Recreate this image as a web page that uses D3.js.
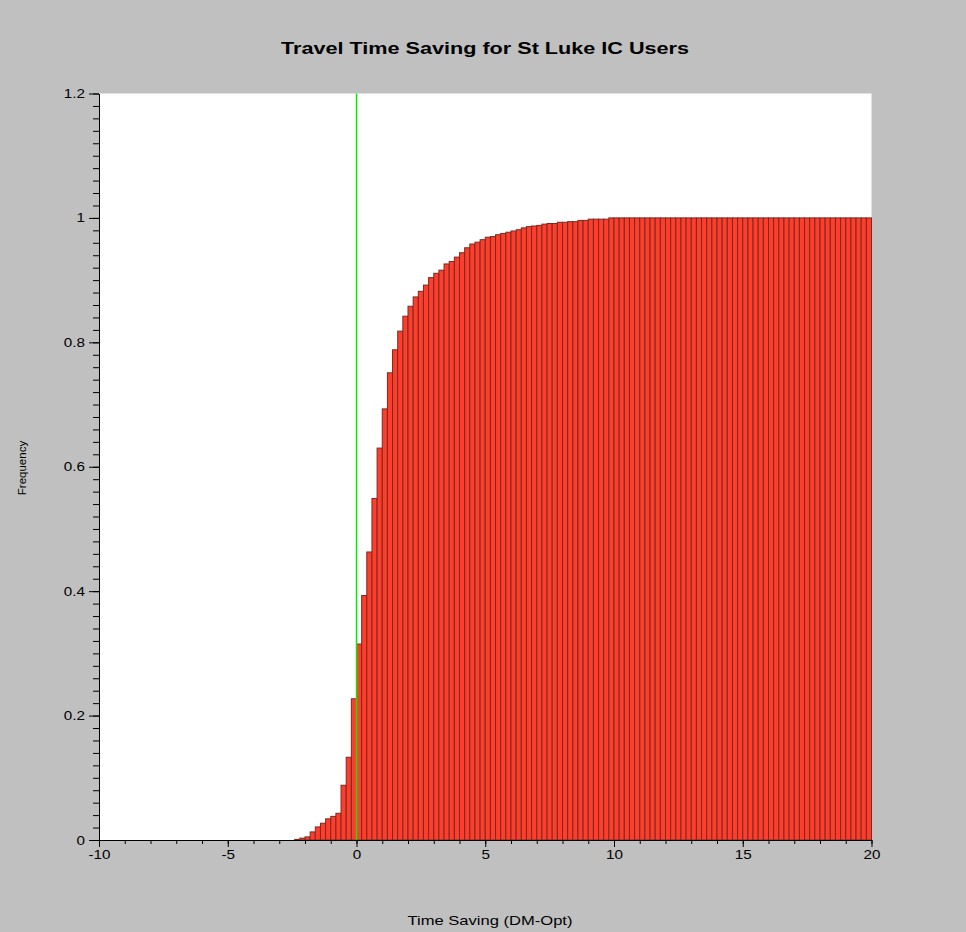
<!DOCTYPE html>
<html>
<head>
<meta charset="utf-8">
<script src="https://cdn.jsdelivr.net/npm/d3@7"></script>
<style>
  body { margin: 0; background: #c0c0c0; }
  svg { display: block; font-family: "Liberation Sans", Arial, sans-serif; }
  .axis path, .axis line { stroke: #000; }
  .axis text { font-size: 12.5px; fill: #000; }
</style>
</head>
<body>
<script>
// cumulative frequency per 0.2-wide bin, first bin starts at -2.4
var firstBin = -2.4;
var binWidth = 0.2;
var freq = [
    0.001, 0.003, 0.005, 0.013, 0.021, 0.027, 0.034, 0.038, 0.043, 0.088,
    0.133, 0.227, 0.315, 0.393, 0.463, 0.549, 0.630, 0.693, 0.751, 0.788,
    0.818, 0.842, 0.858, 0.873, 0.882, 0.892, 0.904, 0.911, 0.916, 0.926,
    0.930, 0.937, 0.944, 0.952, 0.958, 0.961, 0.965, 0.969, 0.970, 0.973,
    0.975, 0.977, 0.979, 0.981, 0.984, 0.986, 0.987, 0.988, 0.990, 0.991,
    0.991, 0.993, 0.993, 0.994, 0.994, 0.996, 0.996, 0.998, 0.998, 0.998,
    0.998,
    1, 1, 1, 1, 1, 1, 1, 1, 1, 1,
    1, 1, 1, 1, 1, 1, 1, 1, 1, 1,
    1, 1, 1, 1, 1, 1, 1, 1, 1, 1,
    1, 1, 1, 1, 1, 1, 1, 1, 1, 1,
    1, 1, 1, 1, 1, 1, 1, 1, 1, 1,
    1
];
var xTicks = [-10, -5, 0, 5, 10, 15, 20];
var yTicks = [0, 0.2, 0.4, 0.6, 0.8, 1, 1.2];
var refLine = 0; // green marker at zero saving

var stretch = 1.22; //the original screenshot is a bit wide, text looks stretched

var svg = d3.select("body").append("svg")
    .attr("width", 966)
    .attr("height", 932);

//window background
svg.append("rect")
    .attr("width", 966).attr("height", 932)
    .style("fill", "#c0c0c0");

var x = d3.scaleLinear().domain([-10, 20]).range([99, 871.5]);
var y = d3.scaleLinear().domain([0, 1.2]).range([840, 93.5]);

//white plot area
svg.append("rect")
    .attr("x", x(-10)).attr("y", y(1.2))
    .attr("width", x(20) - x(-10))
    .attr("height", y(0) - y(1.2))
    .style("fill", "#fff");

//bars
svg.selectAll(".bar")
    .data(freq)
    .enter()
    .append("rect")
    .attr("class", "bar")
    .attr("x", function(d, i) { return x(firstBin + i * binWidth); })
    .attr("y", function(d) { return y(d); })
    .attr("width", function(d, i) { return x(firstBin + (i + 1) * binWidth) - x(firstBin + i * binWidth); })
    .attr("height", function(d) { return y(0) - y(d); })
    .style("fill", "#ff3d2c")
    .style("stroke", "#7a2a20")
    .style("stroke-width", 1);

//green zero line
svg.append("line")
    .attr("x1", x(refLine)).attr("x2", x(refLine))
    .attr("y1", y(1.2)).attr("y2", y(0))
    .style("stroke", "#00ee00")
    .style("stroke-width", 1.5);

var fmt = function(d) { return String(+d.toFixed(1)); };

//minor ticks
svg.append("g")
    .attr("class", "axis")
    .attr("transform", "translate(" + x(-10) + ",0)")
    .call(d3.axisLeft(y).tickValues(d3.range(0, 1.2001, 0.02)).tickSize(6).tickFormat(""))
    .select(".domain").remove();

svg.append("g")
    .attr("class", "axis")
    .attr("transform", "translate(0," + y(0) + ")")
    .call(d3.axisBottom(x).tickValues(d3.range(-10, 20.001, 1)).tickSize(4).tickFormat(""))
    .select(".domain").remove();

//major axes
var yAxisG = svg.append("g")
    .attr("class", "axis")
    .attr("transform", "translate(" + x(-10) + ",0)")
    .call(d3.axisLeft(y).tickValues(yTicks).tickSize(10).tickSizeOuter(0).tickPadding(4).tickFormat(fmt));

yAxisG.selectAll(".tick text")
    .attr("x", -14 / stretch)
    .attr("transform", "scale(" + stretch + ",1)");

var xAxisG = svg.append("g")
    .attr("class", "axis")
    .attr("transform", "translate(0," + y(0) + ")")
    .call(d3.axisBottom(x).tickValues(xTicks).tickSize(7).tickSizeOuter(0).tickPadding(3).tickFormat(fmt));

xAxisG.selectAll(".tick text")
    .attr("transform", "scale(" + stretch + ",1)");

//title
svg.append("text")
    .attr("x", 485)
    .attr("y", 54)
    .attr("text-anchor", "middle")
    .attr("textLength", 408)
    .attr("lengthAdjust", "spacingAndGlyphs")
    .style("font-size", "17px")
    .style("font-weight", "bold")
    .text("Travel Time Saving for St Luke IC Users");

//axis labels
svg.append("text")
    .attr("x", 490)
    .attr("y", 925)
    .attr("text-anchor", "middle")
    .attr("textLength", 165)
    .attr("lengthAdjust", "spacingAndGlyphs")
    .style("font-size", "13px")
    .text("Time Saving (DM-Opt)");

svg.append("text")
    .attr("transform", "translate(26,468) rotate(-90)")
    .attr("text-anchor", "middle")
    .style("font-size", "11.5px")
    .text("Frequency");
</script>
</body>
</html>
